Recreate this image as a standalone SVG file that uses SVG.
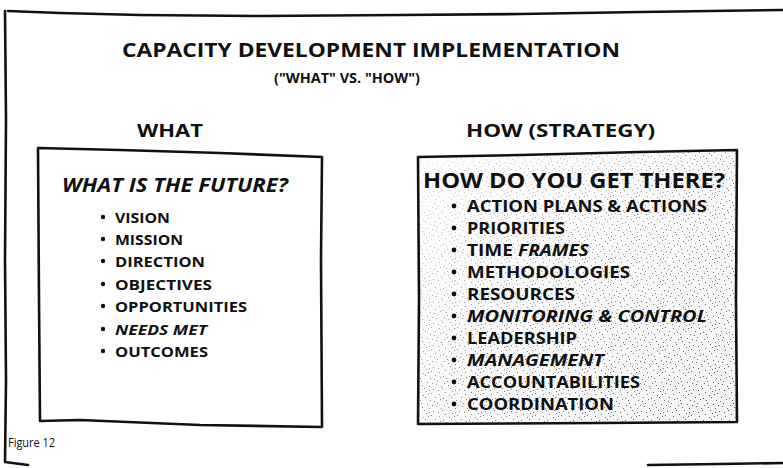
<svg xmlns="http://www.w3.org/2000/svg" width="783" height="468" viewBox="0 0 783 468">
<defs>
<style>
.ln{fill:none;stroke:#111;stroke-width:2.6;stroke-linejoin:round;stroke-linecap:round}
.t{font-family:"Open Sans","Liberation Sans",sans-serif;font-weight:700;fill:#111}
.it{font-style:italic}
.b{fill:#111}
</style>
<pattern id="stip" width="26" height="22" patternUnits="userSpaceOnUse">
<g fill="#555">
<rect x="1" y="2" width="1" height="1"/><rect x="5" y="7" width="1" height="1"/><rect x="9" y="1" width="1" height="1"/>
<rect x="13" y="12" width="1" height="1"/><rect x="18" y="5" width="1" height="1"/><rect x="22" y="16" width="1" height="1"/>
<rect x="3" y="18" width="1" height="1"/><rect x="8" y="14" width="1" height="1"/><rect x="15" y="19" width="1" height="1"/>
<rect x="20" y="10" width="1" height="1"/><rect x="24" y="3" width="1" height="1"/><rect x="11" y="8" width="1" height="1"/>
<rect x="6" y="11" width="1" height="1"/><rect x="17" y="15" width="1" height="1"/><rect x="2" y="9" width="1" height="1"/>
<rect x="12" y="20" width="1" height="1"/><rect x="23" y="20" width="1" height="1"/><rect x="14" y="4" width="1" height="1"/>
<rect x="4" y="4" width="1" height="1"/><rect x="10" y="17" width="1" height="1"/><rect x="19" y="1" width="1" height="1"/>
<rect x="25" y="12" width="1" height="1"/><rect x="16" y="9" width="1" height="1"/><rect x="7" y="21" width="1" height="1"/>
<rect x="21" y="7" width="1" height="1"/><rect x="0" y="14" width="1" height="1"/><rect x="13" y="16" width="1" height="1"/>
</g>
</pattern>
<linearGradient id="fade" x1="0" y1="0" x2="1" y2="1">
<stop offset="0" stop-color="#fff" stop-opacity="0.85"/>
<stop offset="0.45" stop-color="#fff" stop-opacity="0.35"/>
<stop offset="1" stop-color="#fff" stop-opacity="0"/>
</linearGradient>
</defs>
<rect width="783" height="468" fill="#fff"/>

<g id="frame">
<path class="ln" d="M8 11 L60 13 L140 15 L260 16 L400 15 L520 14 L640 12 L783 10"/>
<path class="ln" d="M5 11 L6 120 L5 260 L6 380 L5 462 L28 465"/>
<path class="ln" d="M648 465 L720 464 L783 463"/>
<text class="t" x="8" y="447" font-size="13" textLength="47" lengthAdjust="spacingAndGlyphs" style="font-weight:400">Figure 12</text>
</g>

<g id="title">
<text class="t" x="122" y="57" font-size="20" textLength="498" lengthAdjust="spacingAndGlyphs">CAPACITY DEVELOPMENT IMPLEMENTATION</text>
<text class="t" x="274" y="83" font-size="14" textLength="146" lengthAdjust="spacingAndGlyphs">("WHAT" VS. "HOW")</text>
</g>

<g id="what">
<text class="t" x="137" y="137" font-size="18" textLength="66" lengthAdjust="spacingAndGlyphs">WHAT</text>
<path class="ln" d="M38 148 L120 150 L220 153 L322 157 L321 260 L322 427 L200 425 L80 420 L40 421 L39 300 L38 148 Z" fill="#fff"/>
<text class="t it" x="62" y="192" font-size="19" textLength="226" lengthAdjust="spacingAndGlyphs">WHAT IS THE FUTURE?</text>
<g class="b">
<circle cx="103" cy="217" r="2.2"/><circle cx="103" cy="239" r="2.2"/><circle cx="103" cy="261" r="2.2"/>
<circle cx="103" cy="284" r="2.2"/><circle cx="103" cy="306" r="2.2"/><circle cx="103" cy="329" r="2.2"/>
<circle cx="103" cy="351" r="2.2"/>
</g>
<text class="t" x="115" y="223" font-size="15" textLength="55" lengthAdjust="spacingAndGlyphs">VISION</text>
<text class="t" x="115" y="245" font-size="15" textLength="68" lengthAdjust="spacingAndGlyphs">MISSION</text>
<text class="t" x="115" y="267" font-size="15" textLength="90" lengthAdjust="spacingAndGlyphs">DIRECTION</text>
<text class="t" x="115" y="290" font-size="15" textLength="97" lengthAdjust="spacingAndGlyphs">OBJECTIVES</text>
<text class="t" x="115" y="312" font-size="15" textLength="132" lengthAdjust="spacingAndGlyphs">OPPORTUNITIES</text>
<text class="t it" x="115" y="335" font-size="15" textLength="92" lengthAdjust="spacingAndGlyphs">NEEDS MET</text>
<text class="t" x="115" y="357" font-size="15" textLength="93" lengthAdjust="spacingAndGlyphs">OUTCOMES</text>
</g>

<g id="how">
<text class="t" x="466" y="137" font-size="18" textLength="189" lengthAdjust="spacingAndGlyphs">HOW (STRATEGY)</text>
<path d="M418 157 L520 155 L640 152 L737 150 L736 300 L737 422 L600 423 L418 424 L419 300 Z" fill="#f4f4f4"/>
<path d="M418 157 L520 155 L640 152 L737 150 L736 300 L737 422 L600 423 L418 424 L419 300 Z" fill="url(#stip)"/>
<path d="M418 157 L520 155 L640 152 L737 150 L736 300 L737 422 L600 423 L418 424 L419 300 Z" fill="url(#fade)"/>
<path class="ln" d="M418 157 L520 155 L640 152 L737 150 L736 300 L737 422 L600 423 L418 424 L419 300 Z"/>
<text class="t" x="423" y="188" font-size="22" textLength="302" lengthAdjust="spacingAndGlyphs">HOW DO YOU GET THERE?</text>
<g class="b">
<circle cx="454" cy="206" r="2.4"/><circle cx="454" cy="228" r="2.4"/><circle cx="454" cy="250" r="2.4"/>
<circle cx="454" cy="272" r="2.4"/><circle cx="454" cy="294" r="2.4"/><circle cx="454" cy="316" r="2.4"/>
<circle cx="454" cy="338" r="2.4"/><circle cx="454" cy="360" r="2.4"/><circle cx="454" cy="382" r="2.4"/>
<circle cx="454" cy="404" r="2.4"/>
</g>
<text class="t" x="467" y="212" font-size="16" textLength="240" lengthAdjust="spacingAndGlyphs">ACTION PLANS &amp; ACTIONS</text>
<text class="t" x="467" y="234" font-size="16" textLength="98" lengthAdjust="spacingAndGlyphs">PRIORITIES</text>
<text class="t" x="467" y="256" font-size="16" textLength="122" lengthAdjust="spacingAndGlyphs">TIME <tspan class="it">FRAMES</tspan></text>
<text class="t" x="467" y="278" font-size="16" textLength="163" lengthAdjust="spacingAndGlyphs">METHODOLOGIES</text>
<text class="t" x="467" y="300" font-size="16" textLength="108" lengthAdjust="spacingAndGlyphs">RESOURCES</text>
<text class="t it" x="467" y="322" font-size="16" textLength="240" lengthAdjust="spacingAndGlyphs">MONITORING &amp; CONTROL</text>
<text class="t" x="467" y="344" font-size="16" textLength="110" lengthAdjust="spacingAndGlyphs">LEADERSHIP</text>
<text class="t it" x="467" y="366" font-size="16" textLength="137" lengthAdjust="spacingAndGlyphs">MANAGEMENT</text>
<text class="t" x="467" y="388" font-size="16" textLength="173" lengthAdjust="spacingAndGlyphs">ACCOUNTABILITIES</text>
<text class="t" x="467" y="410" font-size="16" textLength="147" lengthAdjust="spacingAndGlyphs">COORDINATION</text>
</g>
</svg>
